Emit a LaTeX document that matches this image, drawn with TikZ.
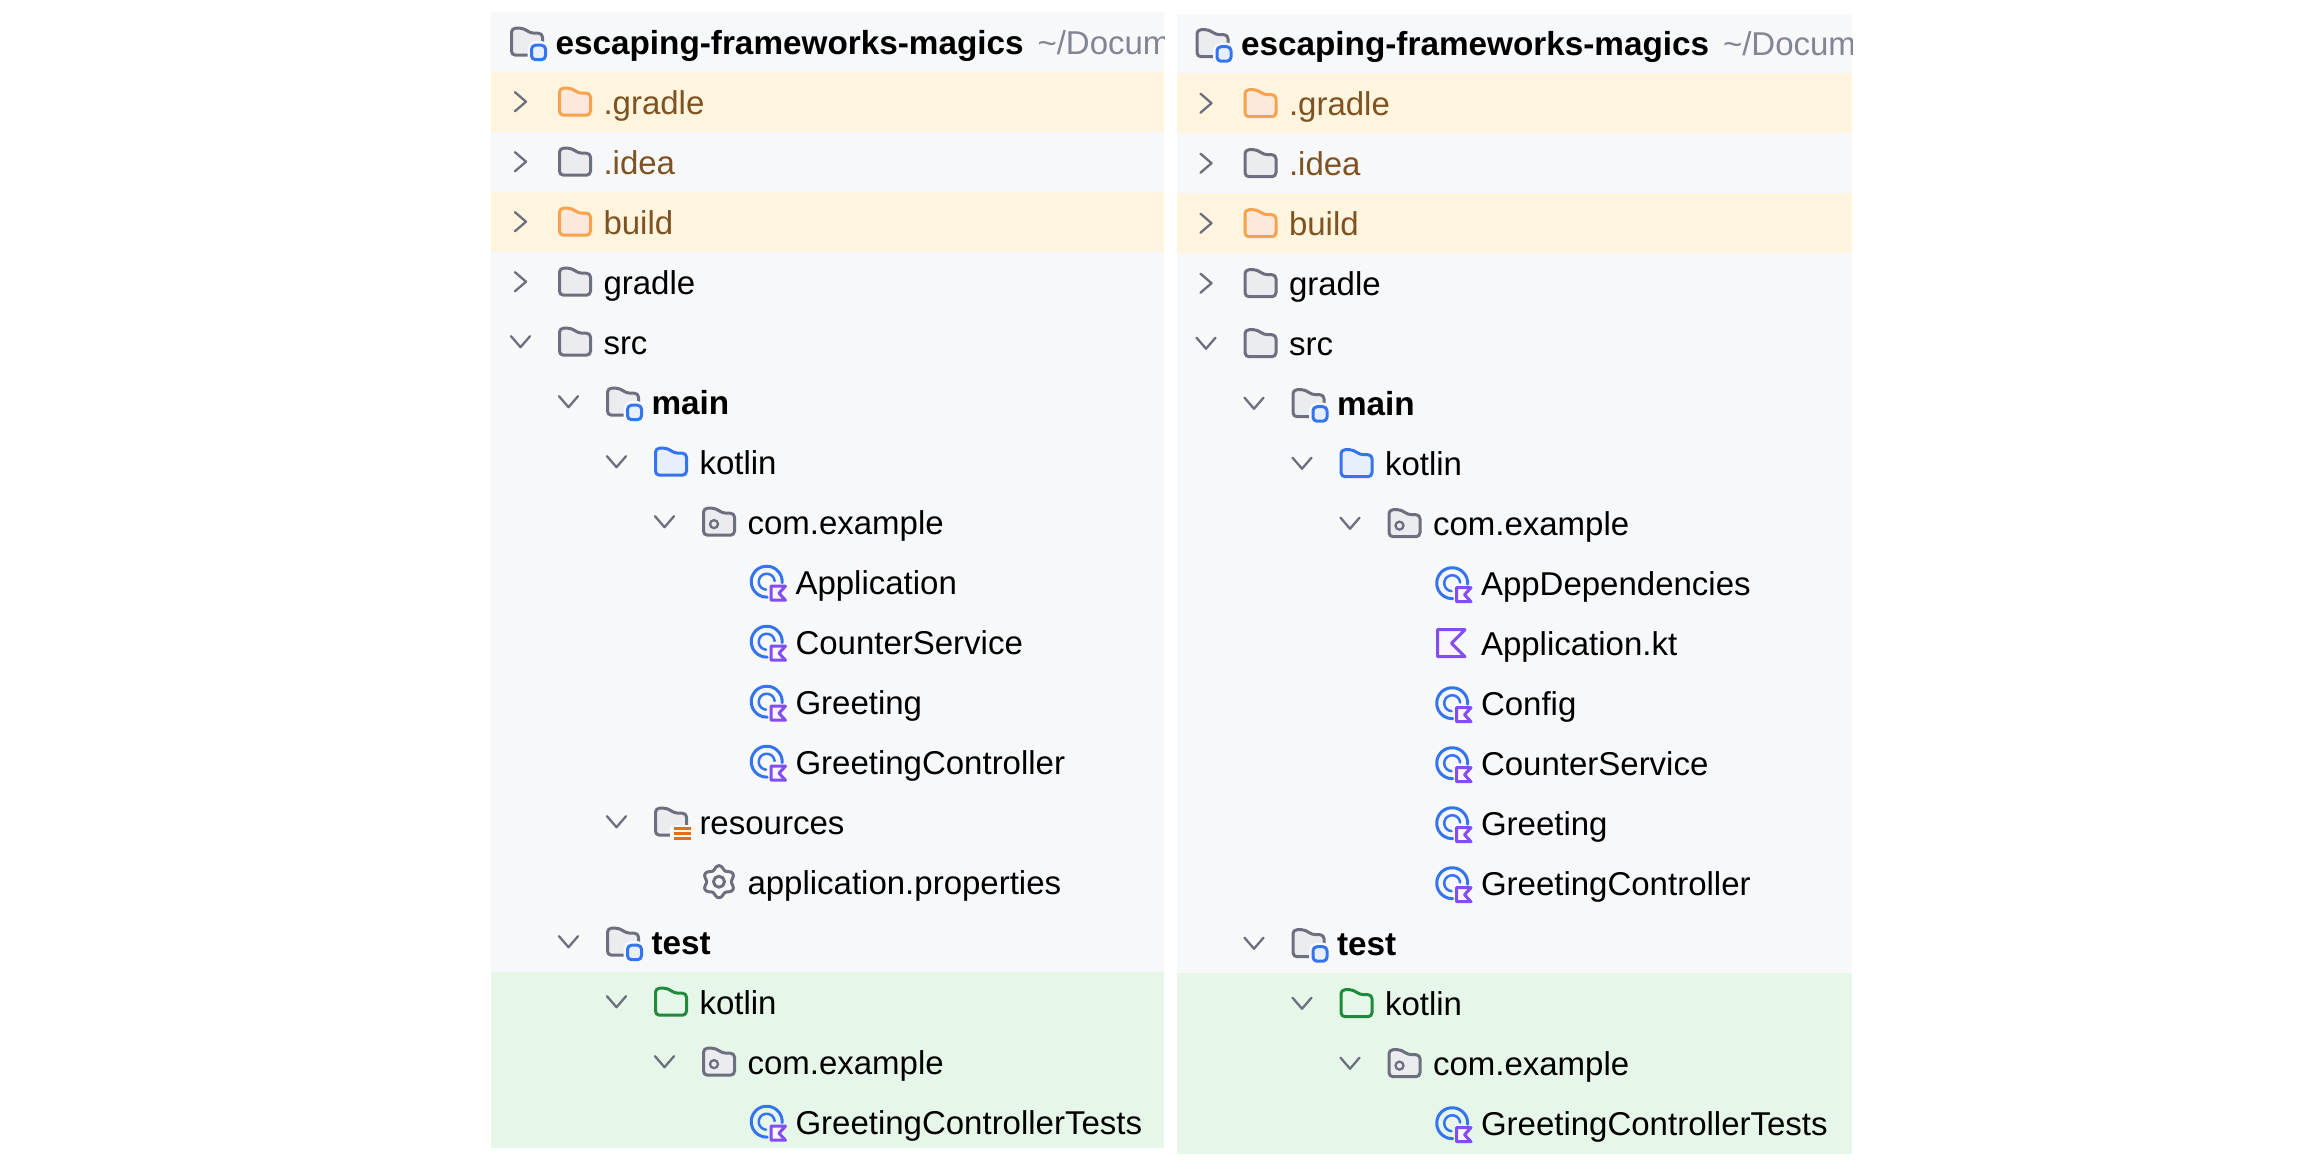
\documentclass[tikz,border=0pt]{standalone}
\usepackage{fontspec}
\setmainfont{Liberation Sans}
\definecolor{panelbg}{HTML}{F7F8FA}
\definecolor{ignoredbg}{HTML}{FFF5DF}
\definecolor{testbg}{HTML}{E6F7E9}
\definecolor{greyline}{HTML}{6C707E}
\definecolor{greyfill}{HTML}{EBECF0}
\definecolor{orangeline}{HTML}{F8A250}
\definecolor{orangefill}{HTML}{FDE9DB}
\definecolor{blueline}{HTML}{3574F0}
\definecolor{bluefill}{HTML}{E7EFFD}
\definecolor{greenline}{HTML}{208A3C}
\definecolor{purpleline}{HTML}{834DF0}
\definecolor{purplefill}{HTML}{FAF5FF}
\definecolor{barline}{HTML}{E66D17}
\definecolor{ignoredtext}{HTML}{7F5222}
\definecolor{pathtext}{HTML}{818594}
\tikzset{
    rowlabel/.style={anchor=base west, inner sep=0pt, font=\fontsize{33}{40}\selectfont},
    boldlabel/.style={rowlabel, font=\fontsize{33.3}{40}\selectfont\bfseries},
    icon/.style={line width=3pt, line join=round, line cap=round},
    chevron/.style={draw=greyline, line width=2.3pt, line cap=round, line join=round},
}
% folder: line colour, fill colour, level, row
\newcommand*{\foldericon}[4]{
    \begin{scope}[shift={(558+48*#3,60*#4)}]
        \draw[icon, draw=#1, fill=#2, rounded corners=4pt] (1.5,-13.5) -- (14,-13.5) -- (20,-8.5) -- (32.5,-8.5) -- (32.5,13.5) -- (1.5,13.5) -- cycle;
    \end{scope}
}
\newcommand*{\openchevron}[2]{
    \draw[chevron] (511+48*#1,60*#2-5.5) -- (520.5+48*#1,60*#2+5.5) -- (530+48*#1,60*#2-5.5);
}
\newcommand*{\closedchevron}[2]{
    \draw[chevron] (515+48*#1,60*#2-9.5) -- (526+48*#1,60*#2) -- (515+48*#1,60*#2+9.5);
}
\newcommand*{\modulebadge}[2]{
    \begin{scope}[shift={(558+48*#1,60*#2)}]
        \draw[line width=8pt, draw=panelbg, fill=panelbg, rounded corners=4pt] (21.5,3.5) rectangle (35.5,18);
        \draw[icon, draw=blueline, fill=bluefill, rounded corners=4pt] (21.5,3.5) rectangle (35.5,18);
    \end{scope}
}
\newcommand*{\classicon}[2]{
    \begin{scope}[shift={(750+48*#1,60*#2)}]
        \draw[icon, draw=blueline] (16.7,0) ++(4:15.5) arc[start angle=4, end angle=-272, radius=15.5];
        \draw[icon, draw=blueline, line width=2.5pt] (16.7,0) ++(-5:8) arc[start angle=-5, end angle=-265, radius=8];
        \draw[icon, draw=purpleline, fill=purplefill] (21,4.5) -- (35.5,4.5) -- (29,11.5) -- (35.5,18.5) -- (21,18.5) -- cycle;
    \end{scope}
}
\newcommand*{\packagedot}[1]{
    \draw[draw=greyline, line width=2.3pt] (714,60*#1+2.4) circle[radius=4];
}
% shared part of both trees: side, bottom of panel, left edge, right edge
\newcommand*{\projecttree}[4]{
    \fill[panelbg] (#3,-29.7) rectangle (#4,#2);
    \foreach \i in {1,3} {
        \fill[ignoredbg] (#3,60*\i-30) rectangle (#4,60*\i+30);
    }
    \fill[testbg] (#3,930) rectangle (#4,#2);
    \begin{scope}
        \clip (#3,-29.7) rectangle (#4,#2);
        \node[boldlabel] (#1-title) at (555.3,12.4) {escaping-frameworks-magics};
        \node[rowlabel, text=pathtext] (#1-path) at (1037.3,12.4) {\textasciitilde/Documents};
    \end{scope}
    \foldericon{greyline}{greyfill}{-1}{0}
    \modulebadge{-1}{0}
    \foreach \i in {1,3} {
        \foldericon{orangeline}{orangefill}{0}{\i}
    }
    \foreach \i in {2,4,5} {
        \foldericon{greyline}{greyfill}{0}{\i}
    }
    \foreach \i in {6,15} {
        \foldericon{greyline}{greyfill}{1}{\i}
        \modulebadge{1}{\i}
    }
    \foldericon{blueline}{bluefill}{2}{7}
    \foldericon{greenline}{testbg}{2}{16}
    \foreach \i in {8,17} {
        \foldericon{greyline}{greyfill}{3}{\i}
        \packagedot{\i}
    }
    \foreach \i in {1,2,3,4} {
        \closedchevron{0}{\i}
    }
    \foreach \l/\i in {0/5,1/6,2/7,3/8,1/15,2/16,3/17} {
        \openchevron{\l}{\i}
    }
    \foreach \i/\name in {1/.gradle,2/.idea,3/build} {
        \node[rowlabel, text=ignoredtext] (#1-\i) at (603.3,60*\i+12.4) {\name};
    }
    \foreach \i/\l/\name in {4/0/gradle,5/0/src,7/2/kotlin,8/3/com.example,16/2/kotlin,17/3/com.example,18/4/GreetingControllerTests} {
        \node[rowlabel] (#1-\i) at (603.3+48*\l,60*\i+12.4) {\name};
    }
    \foreach \i/\name in {6/main,15/test} {
        \node[boldlabel] (#1-\i) at (651.3,60*\i+12.4) {\name};
    }
    \classicon{0}{18}
}

\begin{document}
\begin{tikzpicture}[x=1pt,y=-1pt]
    \useasboundingbox (0,0) rectangle (2316,1168);

    \begin{scope}[shift={(0,41.7)}]
        \projecttree{left}{1106.3}{491.2}{1164.4}
        \foreach \i in {9,...,12} {
            \classicon{0}{\i}
        }
        \foreach \i/\name in {9/Application,10/CounterService,11/Greeting,12/GreetingController} {
            \node[rowlabel] (left-\i) at (795.3,60*\i+12.4) {\name};
        }
        \foldericon{greyline}{greyfill}{2}{13}
        \fill[panelbg] (670,783) rectangle (695,800);
        \foreach \k in {0,1,2} {
            \draw[line width=3pt, draw=barline] (673.5,60*13+6.6+5*\k) -- (691,60*13+6.6+5*\k);
        }
        \openchevron{2}{13}
        \node[rowlabel] (left-13) at (699.3,60*13+12.4) {resources};
        % gear of the properties file
        \draw[icon, draw=greyline] plot[smooth cycle, samples=48, domain=0:352.5] ({719+(14.2-1.9*cos(6*\x))*cos(\x)},{840+(14.2-1.9*cos(6*\x))*sin(\x)});
        \draw[icon, draw=greyline] (719,840) circle[radius=5.5];
        \node[rowlabel] (left-14) at (747.3,60*14+12.4) {application.properties};
    \end{scope}

    \begin{scope}[shift={(685.5,43.2)}]
        \projecttree{right}{1110.3}{491.7}{1166.5}
        \foreach \i in {9,11,12,13,14} {
            \classicon{0}{\i}
        }
        \draw[icon, draw=purpleline, fill=purplefill] (752,586.5) -- (779.5,586.5) -- (766,600) -- (779.5,613.5) -- (752,613.5) -- cycle;
        \foreach \i/\name in {9/AppDependencies,10/Application.kt,11/Config,12/CounterService,13/Greeting,14/GreetingController} {
            \node[rowlabel] (right-\i) at (795.3,60*\i+12.4) {\name};
        }
    \end{scope}
\end{tikzpicture}
\end{document}
